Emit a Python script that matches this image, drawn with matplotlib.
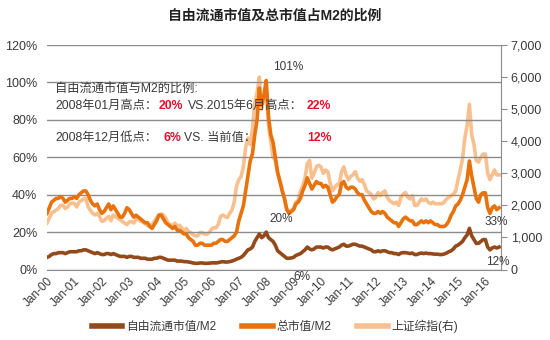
import numpy as np
import matplotlib
matplotlib.use("Agg")
import matplotlib.pyplot as plt
from matplotlib.ticker import FuncFormatter, MultipleLocator

plt.rcParams['font.family'] = ['Liberation Sans', 'Noto Sans CJK SC', 'DejaVu Sans']

title = "自由流通市值及总市值占M2的比例"
series_names = ["自由流通市值/M2", "总市值/M2", "上证综指(右)"]
year_labels = ["Jan-%02d" % y for y in range(0, 17)]
start_year = 2000

# Monthly values Jan-2000 .. Jul-2016
free_float_m2 = [
    6.5, 7, 8, 8.5, 8.5, 9, 9, 9, 8.5, 9, 9.5, 9.5,
    9.5, 9.5, 10, 10, 10.5, 10.5, 10, 9.5, 9, 8.5, 9, 8.5,
    8, 8, 8.5, 8.5, 8, 8.5, 8, 7.5, 7, 7, 7, 6.5,
    7, 7, 6.5, 6.5, 6.5, 6, 6, 6, 5.5, 5.5, 5.5, 6,
    6, 6.5, 6.5, 6, 5.5, 5, 5, 5, 5, 4.5, 4.5, 4.5,
    4.2, 4.2, 4, 3.8, 3.5, 3.3, 3.3, 3.5, 3.5, 3.3, 3.3, 3.4,
    3.5, 3.6, 3.5, 3.7, 4, 4.2, 4, 4, 4.2, 4.5, 5, 5.5,
    6, 6.5, 7.5, 9, 10.5, 11, 12, 15, 17, 19, 17, 18,
    20, 17, 16, 15, 13, 10, 9, 8, 7, 6, 6, 6.2,
    6.5, 7.5, 8, 8.5, 9.5, 10.5, 12, 11, 10.5, 11, 12, 12,
    12, 11.5, 12, 12, 11, 10.5, 11, 11.5, 12, 13, 13.5, 12.5,
    12.5, 13, 13.5, 13.5, 13, 12.5, 12.5, 12, 11.5, 11, 10.5, 9.5,
    9.5, 10, 9.5, 10, 10, 9.5, 9, 9, 8.5, 8.5, 8, 8.8,
    9, 9, 8.8, 8.5, 8.8, 8, 8, 8.5, 8.8, 8.5, 8.8, 8.5,
    8.5, 8.3, 8.2, 8.2, 8, 8, 8.3, 8.8, 9.5, 10, 11, 12.5,
    13, 14, 15, 17, 18.5, 22, 18, 16, 14, 14, 15, 16,
    16, 12, 10.5, 11.5, 12, 11.5, 12,
]
total_m2 = [
    30, 33, 36, 37, 38, 38, 39, 38, 36, 37, 38, 38,
    39, 38, 40, 41, 42, 42, 40, 37, 35, 34, 35, 32,
    30, 31, 33, 35, 32, 34, 32, 30, 28, 28, 30, 33,
    32, 30, 28, 29, 28, 27, 26, 25, 25, 23, 22, 24,
    26, 29, 29, 27, 25, 24, 23, 22, 23, 21, 21, 20,
    19, 19, 17, 16, 15, 13, 13, 14, 14, 13, 13, 13,
    13, 14, 14, 15, 16, 16, 15, 15, 16, 17, 18, 20,
    26, 30, 34, 42, 50, 58, 62, 72, 80, 97, 88, 93,
    101, 82, 72, 68, 60, 52, 47, 42, 38, 32, 30, 31,
    32, 35, 36, 38, 42, 45, 49, 46, 43, 45, 47, 46,
    46, 44, 45, 44, 40, 36, 37, 39, 40, 46, 47, 44,
    43, 44, 44, 43, 41, 40, 40, 37, 35, 33, 31, 30,
    30, 31, 30, 31, 30, 28, 27, 26, 25, 25, 23, 25,
    27, 28, 27, 26, 26, 24, 24, 25, 26, 25, 26, 25,
    26, 25, 24, 24, 23, 23, 23, 24, 26, 29, 31, 34,
    35, 37, 40, 44, 48, 58, 50, 44, 38, 36, 40, 41,
    41, 33, 30, 33, 34, 32, 33,
]
sse_index = [
    1450, 1600, 1760, 1800, 1850, 1900, 2000, 2000, 1900, 1950, 2050, 2070,
    2060, 1950, 2100, 2150, 2200, 2220, 1950, 1850, 1750, 1700, 1750, 1650,
    1500, 1520, 1600, 1650, 1520, 1700, 1650, 1600, 1550, 1500, 1450, 1400,
    1480, 1500, 1450, 1550, 1600, 1500, 1480, 1420, 1380, 1350, 1400, 1500,
    1600, 1700, 1730, 1700, 1600, 1450, 1400, 1350, 1450, 1350, 1380, 1300,
    1200, 1280, 1180, 1150, 1080, 1050, 1050, 1150, 1150, 1100, 1100, 1150,
    1250, 1300, 1300, 1400, 1650, 1700, 1650, 1620, 1750, 1850, 2100, 2600,
    2800, 2900, 3200, 3800, 4100, 3900, 4400, 5200, 5500, 6000, 5000, 5300,
    5600, 4500, 4000, 3500, 3400, 3000, 2800, 2500, 2200, 1900, 1800, 1850,
    1900, 2100, 2150, 2450, 2600, 2850, 3300, 3400, 2850, 3000, 3200, 3250,
    3200, 3000, 3100, 3050, 2700, 2450, 2550, 2650, 2650, 3050, 3200, 2950,
    2800, 2900, 2950, 3050, 2850, 2750, 2800, 2650, 2450, 2400, 2350, 2200,
    2250, 2400, 2300, 2400, 2450, 2250, 2150, 2100, 2050, 2100, 2000, 2250,
    2350, 2400, 2250, 2200, 2300, 2000, 2000, 2100, 2200, 2150, 2200, 2100,
    2050, 2100, 2050, 2050, 2050, 2050, 2100, 2200, 2250, 2300, 2350, 2450,
    2800, 3100, 3450, 4100, 4500, 5150, 4200, 3900, 3400, 3350, 3500, 3600,
    3600, 3000, 2800, 2950, 3100, 2950, 2950,
]

dark = '#94491A'
orange = '#E8720C'
light = '#F9C08F'
grid_c = '#8C8C8C'
txt_c = '#3A3A3A'
red = '#E3102B'

n = len(sse_index)
x = start_year + np.arange(n) / 12.0

fig = plt.figure(figsize=(5.5, 3.4), dpi=100)
ax = fig.add_axes([47/550, 1-269.5/340, (501-47)/550, (269.5-45)/340])
ax2 = ax.twinx()

ax.set_zorder(2)
ax.patch.set_visible(False)

l3, = ax2.plot(x, sse_index, color=light, lw=2.6, solid_joinstyle='round', label=series_names[2])
l1, = ax.plot(x, free_float_m2, color=dark, lw=2.6, solid_joinstyle='round', label=series_names[0])
l2, = ax.plot(x, total_m2, color=orange, lw=2.6, solid_joinstyle='round', label=series_names[1])

ax.set_ylim(0, 120)
ax2.set_ylim(0, 7000)
ax.set_xlim(2000, 2016.57)
ax.yaxis.set_major_locator(MultipleLocator(20))
ax.yaxis.set_major_formatter(FuncFormatter(lambda v, p: "%d%%" % v))
ax2.yaxis.set_major_locator(MultipleLocator(1000))
ax2.yaxis.set_major_formatter(FuncFormatter(lambda v, p: "{:,.0f}".format(v)))

ax.set_xticks(np.arange(2000, 2017))
ax.set_xticklabels(year_labels, rotation=45, ha='right', rotation_mode='anchor')
ax.tick_params(axis='x', length=0, labelsize=8.5, colors=txt_c, pad=4)
ax.tick_params(axis='y', length=0, labelsize=9, colors=txt_c, pad=7)
ax2.tick_params(axis='y', length=4, direction='out', labelsize=9, colors=txt_c, color=grid_c, pad=3)

ax.grid(axis='y', color=grid_c, lw=1)
ax.set_axisbelow(True)
for s in ['top', 'left', 'right']:
    ax.spines[s].set_visible(False)
ax.spines['bottom'].set_color(grid_c)
for s in ['top', 'left', 'bottom']:
    ax2.spines[s].set_visible(False)
ax2.spines['right'].set_color(grid_c)

fig.text(0.5, 1-16/340, title, ha='center', va='center', fontsize=10, fontweight='bold', color='#222222')

# point annotations
ann_fs = 8.5
ax.text(2008.8, 108, "101%", ha='center', va='center', fontsize=ann_fs, color=txt_c)
ax.text(2008.54, 27, "20%", ha='center', va='center', fontsize=ann_fs, color=txt_c)
ax.text(2009.3, -3.8, "6%", ha='center', va='center', fontsize=ann_fs, color=txt_c)
ax.text(2016.4, 25.5, "33%", ha='center', va='center', fontsize=ann_fs, color=txt_c)
ax.text(2016.45, 4, "12%", ha='center', va='center', fontsize=ann_fs, color=txt_c)

# text box
def ftxt(px, py, s, color=txt_c, weight='normal'):
    fig.text(px/550, 1-py/340, s, ha='left', va='center', fontsize=8.8, color=color, fontweight=weight)

ftxt(55, 90, "自由流通市值与M2的比例:")
ftxt(55, 106, "2008年01月高点：")
ftxt(159, 106, "20%", red, 'bold')
ftxt(188, 106, "VS.2015年6月高点：")
ftxt(307, 106, "22%", red, 'bold')
ftxt(55, 138, "2008年12月低点：")
ftxt(163, 138, "6%", red, 'bold')
ftxt(184, 138, "VS. 当前值：")
ftxt(307, 138, "12%", red, 'bold')

leg = fig.legend(handles=[l1, l2, l3], loc='center', bbox_to_anchor=(0.5, 1-326/340), ncol=3,
                 frameon=False, fontsize=8.5, handlelength=2.6, columnspacing=2.2, handletextpad=0.3)
for t in leg.get_texts():
    t.set_color(txt_c)
for h in leg.legend_handles:
    h.set_linewidth(4)

fig.savefig("out.png", dpi=100)
